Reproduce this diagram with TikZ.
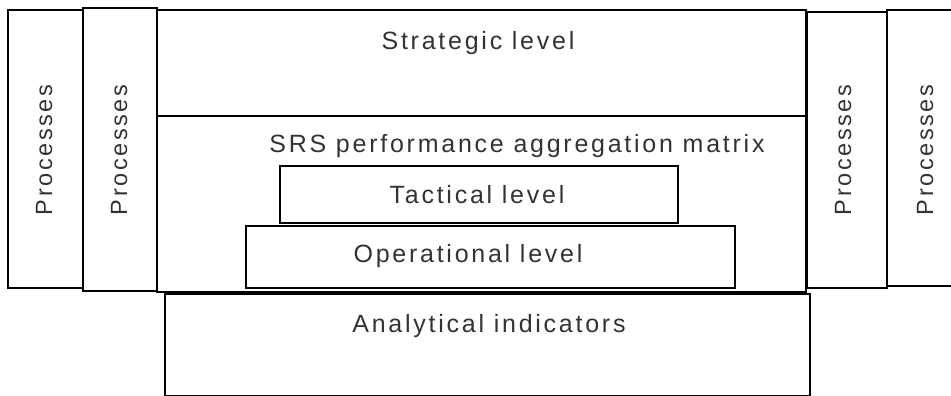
\documentclass[tikz,border=0pt]{standalone}
\usepackage{fontspec}
\setmainfont{Liberation Sans}[LetterSpace=11]
\begin{document}
\begin{tikzpicture}[x=1pt,y=-1pt,
  box/.style={draw=black, line width=1.4pt, inner sep=0pt, fill=white},
  lbl/.style={inner sep=0pt, anchor=base, font=\fontsize{25}{28}\selectfont, text=black!80},
  vlbl/.style={lbl, rotate=90, font=\fontsize{23.5}{26}\selectfont}]
\useasboundingbox (0,0) rectangle (951,396);
\clip (0,0) rectangle (951,396);
% side process columns
\node[box, minimum width=75pt, minimum height=278pt] (p1) at (45.5,149) {};
\node[box, minimum width=74pt, minimum height=283pt] (p2) at (120,149.5) {};
\node[box, minimum width=80pt, minimum height=276pt] (p3) at (847,150) {};
\node[box, minimum width=68pt, minimum height=276pt] (p4) at (921,148) {};
% central blocks
\node[box, minimum width=649pt, minimum height=106pt] (strat) at (481.5,63) {};
\node[box, minimum width=649pt, minimum height=176pt] (matrix) at (481.5,204) {};
\node[box, minimum width=398pt, minimum height=57pt] (tact) at (479,194.5) {};
\node[box, minimum width=489pt, minimum height=62pt] (oper) at (490.5,257) {};
\node[box, minimum width=645pt, minimum height=102pt] (anal) at (487.5,345) {};
% texts
\node[lbl] (tstrat) at (478,49.5) {Strategic level};
\node[lbl] (tmatrix) at (517,152.5) {SRS performance aggregation matrix};
\node[lbl] (ttact) at (477,203.5) {Tactical level};
\node[lbl] (toper) at (468,262.5) {Operational level};
\node[lbl] (tanal) at (489,332.5) {Analytical indicators};
\node[vlbl] (tp1) at (52,150) {Processes};
\node[vlbl] (tp2) at (127,150) {Processes};
\node[vlbl] (tp3) at (851,150) {Processes};
\node[vlbl] (tp4) at (933,150) {Processes};
\end{tikzpicture}
\end{document}
